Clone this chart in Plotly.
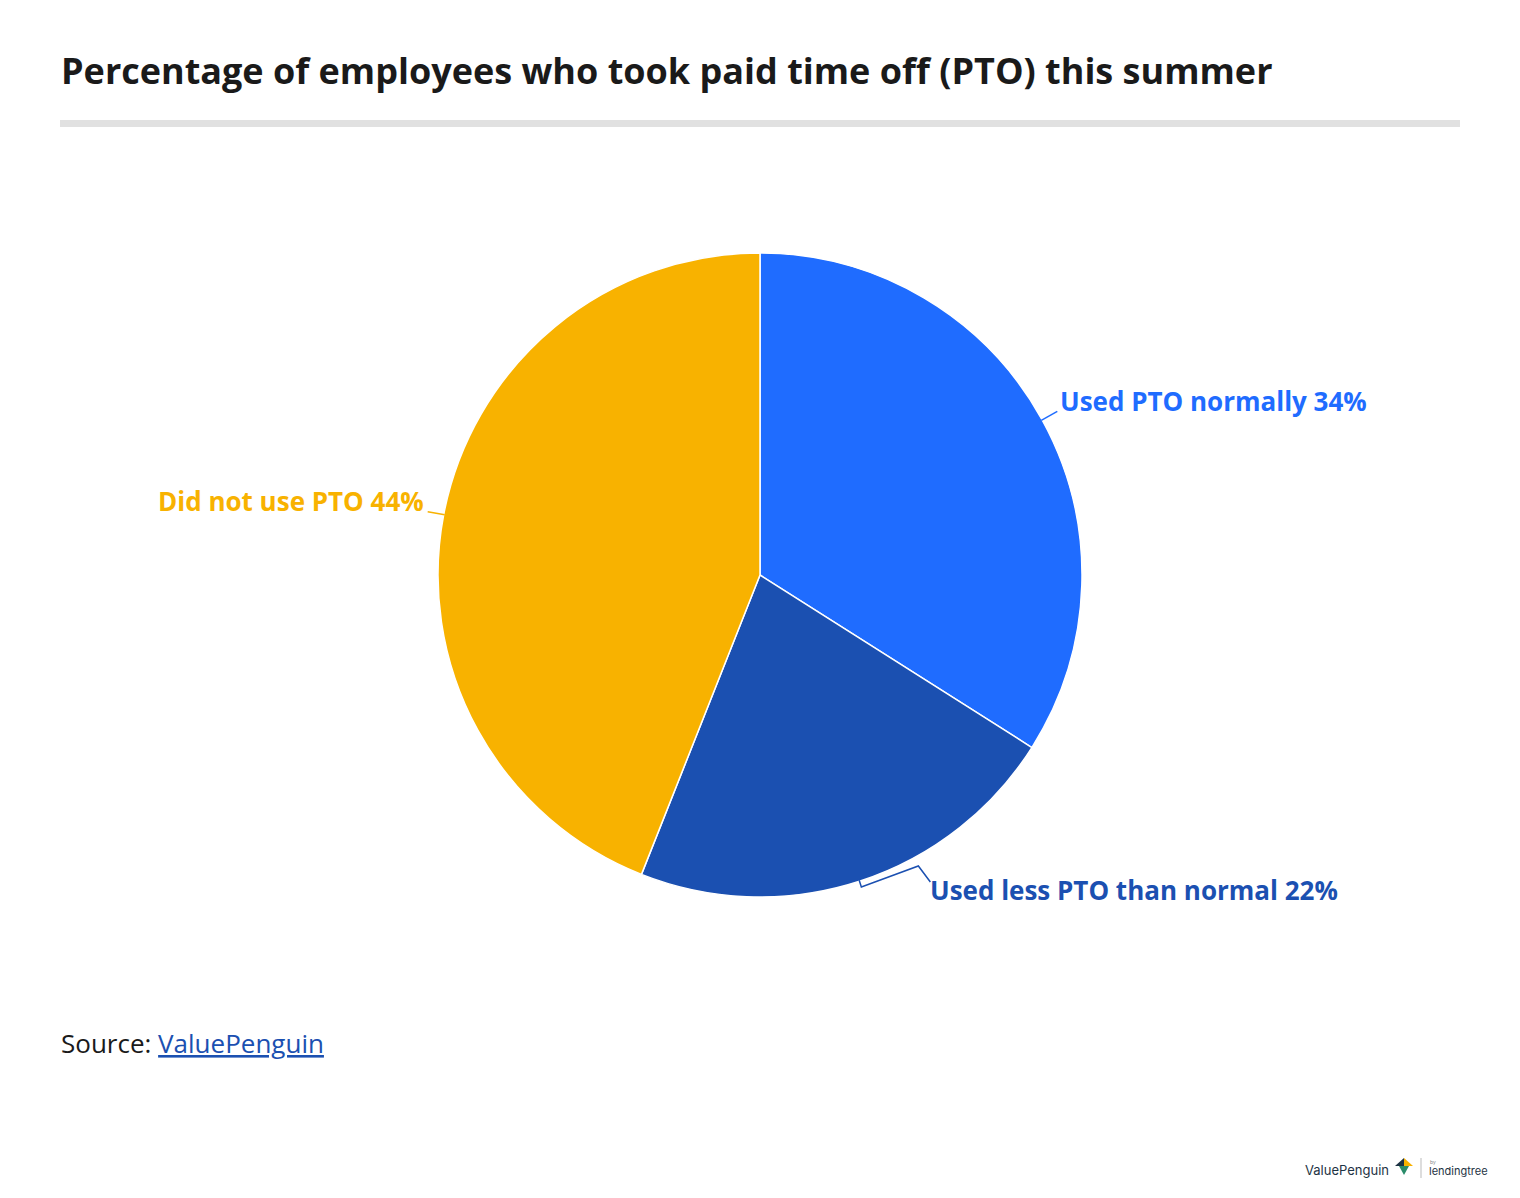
import numpy as np
import plotly.graph_objects as go

# ---- data ----
categories = ["Used PTO normally", "Used less PTO than normal", "Did not use PTO"]
values = [34, 22, 44]
colors = ["#1f6cff", "#1b50b1", "#f8b200"]

title = "Percentage of employees who took paid time off (PTO) this summer"

OFF = 8  # page body margin
W, H = 1520 - 2 * OFF, 1198 - 2 * OFF
CX, CY, R = 760, 575, 322  # pie centre / radius in page pixels


def px(x):
    return (x - OFF) / W


def py(y):
    return 1 - (y - OFF) / H


fig = go.Figure(
    go.Pie(
        labels=categories,
        values=values,
        sort=False,
        direction="clockwise",
        rotation=0,
        marker=dict(colors=colors, line=dict(color="white", width=1.5)),
        textinfo="none",
        hoverinfo="label+percent",
        showlegend=False,
        domain=dict(x=[px(CX - R), px(CX + R)], y=[py(CY + R), py(CY - R)]),
    )
)

# mid angles (clockwise from 12 o'clock)
total = sum(values)
cum = np.cumsum([0] + values)
mids = [(cum[i] + values[i] / 2) / total * 360 for i in range(len(values))]


def edge(angle_deg, r=R):
    a = np.radians(angle_deg)
    return CX + r * np.sin(a), CY - r * np.cos(a)


shapes = []
annotations = []

# header rule
shapes.append(dict(type="rect", xref="paper", yref="paper",
                   x0=px(60), x1=px(1460), y0=py(127), y1=py(120),
                   fillcolor="#e1e1e1", line=dict(width=0)))

LS = 26
for i, (cat, v, c, m) in enumerate(zip(categories, values, colors, mids)):
    ex, ey = edge(m, R - 1)
    text = f"<b>{cat} {v}%</b>"
    if i == 0:
        lx, ly = ex + 16, ey - 9
        path = f"M {px(ex)},{py(ey)} L {px(lx)},{py(ly)}"
        annotations.append(dict(x=px(lx + 1), y=py(ly - 10), xref="paper", yref="paper",
                                text=text, showarrow=False, xanchor="left", yanchor="middle",
                                font=dict(family="Open Sans", size=LS, color=c)))
    elif i == 1:
        a = np.radians(m)
        p2 = (ex + np.sin(a) * 7, ey - np.cos(a) * 7)
        p3 = (p2[0] + 57, p2[1] - 21)
        p4 = (p3[0] + 12, p3[1] + 16)
        path = (f"M {px(ex)},{py(ey)} L {px(p2[0])},{py(p2[1])} "
                f"L {px(p3[0])},{py(p3[1])} L {px(p4[0])},{py(p4[1])}")
        annotations.append(dict(x=px(p4[0] - 2), y=py(p4[1] + 8), xref="paper", yref="paper",
                                text=text, showarrow=False, xanchor="left", yanchor="middle",
                                font=dict(family="Open Sans", size=LS, color=c)))
    else:
        lx, ly = ex - 17, ey - 3
        path = f"M {px(ex)},{py(ey)} L {px(lx)},{py(ly)}"
        annotations.append(dict(x=px(lx - 2), y=py(ly - 11), xref="paper", yref="paper",
                                text=text, showarrow=False, xanchor="right", yanchor="middle",
                                font=dict(family="Open Sans", size=LS, color=c)))
    shapes.append(dict(type="path", xref="paper", yref="paper", path=path,
                       line=dict(color=c, width=1.5)))

# title
annotations.append(dict(x=px(59), y=py(71), xref="paper", yref="paper",
                        text=f"<b>{title}</b>", showarrow=False,
                        xanchor="left", yanchor="middle",
                        font=dict(family="Open Sans", size=36, color="#1a1a1a")))

# source
annotations.append(dict(x=px(59), y=py(1043), xref="paper", yref="paper",
                        text="Source: <span style='color:#1b50b1'><u>ValuePenguin</u></span>",
                        showarrow=False, xanchor="left", yanchor="middle",
                        font=dict(family="Open Sans", size=26, color="#1a1a1a")))

# logo
annotations.append(dict(x=px(1391), y=py(1170), xref="paper", yref="paper",
                        text="ValuePenguin", showarrow=False, xanchor="right", yanchor="middle",
                        font=dict(family="Inter", size=13, color="#1e3344")))
annotations.append(dict(x=px(1427), y=py(1171), xref="paper", yref="paper",
                        text="lendingtree", showarrow=False, xanchor="left", yanchor="middle",
                        font=dict(family="Inter", size=11, color="#1e3344")))
annotations.append(dict(x=px(1428), y=py(1162), xref="paper", yref="paper",
                        text="by", showarrow=False, xanchor="left", yanchor="middle",
                        font=dict(family="Inter", size=5, color="#888888")))
shapes.append(dict(type="line", xref="paper", yref="paper",
                   x0=px(1421), x1=px(1421), y0=py(1158), y1=py(1178),
                   line=dict(color="#bbbbbb", width=1)))
shapes.append(dict(type="path", xref="paper", yref="paper",
                   path=f"M {px(1395)},{py(1166)} L {px(1404)},{py(1158)} L {px(1404)},{py(1166)} Z",
                   fillcolor="#1e3344", line=dict(width=0)))
shapes.append(dict(type="path", xref="paper", yref="paper",
                   path=f"M {px(1404)},{py(1158)} L {px(1413)},{py(1166)} L {px(1404)},{py(1166)} Z",
                   fillcolor="#f8b200", line=dict(width=0)))
shapes.append(dict(type="path", xref="paper", yref="paper",
                   path=f"M {px(1399)},{py(1166)} L {px(1409)},{py(1166)} L {px(1404)},{py(1175)} Z",
                   fillcolor="#2a8c6a", line=dict(width=0)))

fig.update_layout(
    width=W, height=H,
    margin=dict(l=0, r=0, t=0, b=0),
    paper_bgcolor="white", plot_bgcolor="white",
    shapes=shapes, annotations=annotations,
    font=dict(family="Open Sans"),
)

fig.write_html("out.html")
